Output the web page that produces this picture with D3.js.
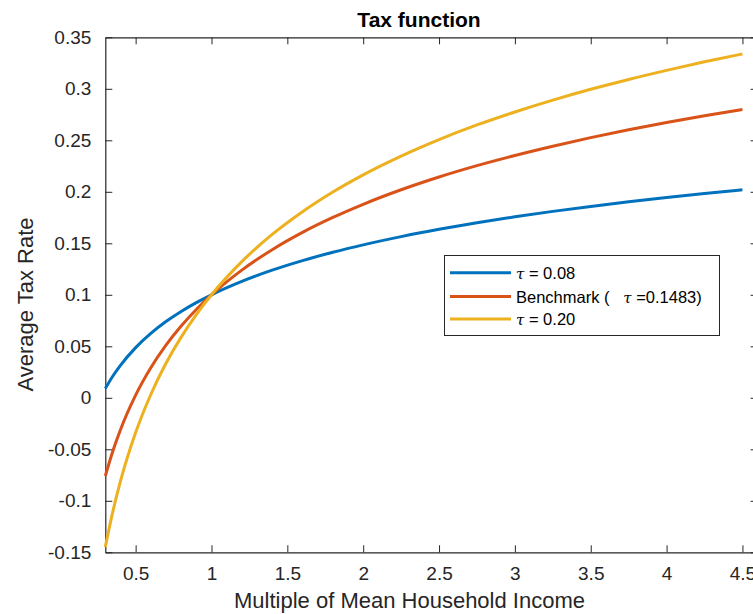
<!DOCTYPE html>
<html>
<head>
<meta charset="utf-8">
<script src="https://cdn.jsdelivr.net/npm/d3@7/dist/d3.min.js"></script>
<style>
  html, body { margin: 0; padding: 0; background: #fff; }
  svg { display: block; font-family: "Liberation Sans", Arial, Helvetica, sans-serif; }
</style>
</head>
<body>
<svg id="chart" width="753" height="614"></svg>
<script>
// Income levels (multiples of mean household income)
const income = [0.3, 0.35, 0.4, 0.5, 0.6, 0.7, 0.8, 0.9, 1.0, 1.2, 1.4, 1.6, 1.8, 2.0,
                2.25, 2.5, 2.75, 3.0, 3.25, 3.5, 3.75, 4.0, 4.25, 4.5];

// Average tax rate for each progressivity level
const rateTau008 = [0.0090, 0.0212, 0.0315, 0.0487, 0.0625, 0.0740, 0.0838, 0.0924, 0.1000,
                    0.1130, 0.1239, 0.1332, 0.1413, 0.1485, 0.1565, 0.1636, 0.1700, 0.1757,
                    0.1810, 0.1858, 0.1903, 0.1945, 0.1984, 0.2020];
const rateBenchmark = [-0.0759, -0.0516, -0.0310, 0.0026, 0.0292, 0.0511, 0.0697, 0.0858, 0.1000,
                       0.1240, 0.1438, 0.1606, 0.1751, 0.1879, 0.2020, 0.2144, 0.2254, 0.2353,
                       0.2443, 0.2526, 0.2602, 0.2672, 0.2738, 0.2799];
const rateTau020 = [-0.1450, -0.1103, -0.0810, -0.0338, 0.0032, 0.0335, 0.0589, 0.0808, 0.1000,
                    0.1322, 0.1586, 0.1807, 0.1998, 0.2165, 0.2347, 0.2507, 0.2649, 0.2775,
                    0.2890, 0.2995, 0.3091, 0.3179, 0.3262, 0.3338];

const xTicks = [0.5, 1, 1.5, 2, 2.5, 3, 3.5, 4, 4.5];
const yTicks = [-0.15, -0.1, -0.05, 0, 0.05, 0.1, 0.15, 0.2, 0.25, 0.3, 0.35];

const series = [
  { name: "tau008", values: rateTau008, color: "#0072BD" },
  { name: "benchmark", values: rateBenchmark, color: "#D95319" },
  { name: "tau020", values: rateTau020, color: "#EDB120" }
];

const axisColor = "#262626";
const svg = d3.select("#chart");

const plotLeft = 105.3, plotTop = 37.3, plotBottom = 552.3;
const x = d3.scaleLinear().domain([0.3, 4.6]).range([plotLeft, plotLeft + 4.3 * 151.7]);
const y = d3.scaleLinear().domain([-0.15, 0.35]).range([plotBottom, plotTop]);
const plotRight = x(4.6);

// Axes box with inward ticks on all four sides
const fmt = d => String(d);
const tickLen = 7;

const gx = svg.append("g").attr("transform", `translate(0,${plotBottom})`)
  .call(d3.axisBottom(x).tickValues(xTicks).tickFormat(fmt).tickSizeInner(-tickLen).tickSizeOuter(0).tickPadding(14));
const gxTop = svg.append("g").attr("transform", `translate(0,${plotTop})`)
  .call(d3.axisTop(x).tickValues(xTicks).tickFormat("").tickSizeInner(-tickLen).tickSizeOuter(0));
const gy = svg.append("g").attr("transform", `translate(${plotLeft},0)`)
  .call(d3.axisLeft(y).tickValues(yTicks).tickFormat(fmt).tickSizeInner(-tickLen).tickSizeOuter(0).tickPadding(14));
const gyRight = svg.append("g").attr("transform", `translate(${plotRight},0)`)
  .call(d3.axisRight(y).tickValues(yTicks).tickFormat("").tickSizeInner(-tickLen).tickSizeOuter(0));

[gx, gxTop, gy, gyRight].forEach(g => {
  g.select(".domain").attr("stroke", axisColor).attr("stroke-width", 1.2);
  g.selectAll(".tick line").attr("stroke", axisColor).attr("stroke-width", 1);
  g.selectAll(".tick text").attr("fill", axisColor).style("font-size", "19px")
    .style("font-family", "'Liberation Sans', Arial, sans-serif");
});
gx.selectAll(".tick text").attr("dy", "0.71em");

// Curves
const line = d3.line()
  .x((d, i) => x(income[i]))
  .y(d => y(d))
  .curve(d3.curveMonotoneX);

svg.append("g").selectAll("path").data(series).join("path")
  .attr("d", s => line(s.values))
  .attr("fill", "none")
  .attr("stroke", s => s.color)
  .attr("stroke-width", 3)
  .attr("stroke-linejoin", "round");

// Title and axis labels
svg.append("text").attr("x", 419).attr("y", 26.5).attr("text-anchor", "middle")
  .style("font-size", "21px").style("font-weight", "bold").attr("fill", "#000")
  .text("Tax function");

svg.append("text").attr("x", 409.5).attr("y", 608).attr("text-anchor", "middle")
  .style("font-size", "22px").attr("fill", axisColor)
  .text("Multiple of Mean Household Income");

svg.append("text").attr("transform", "translate(33,304.5) rotate(-90)").attr("text-anchor", "middle")
  .style("font-size", "22px").attr("fill", axisColor)
  .text("Average Tax Rate");

// Legend
const legend = svg.append("g");
legend.append("rect").attr("x", 444.5).attr("y", 255.5).attr("width", 275).attr("height", 80)
  .attr("fill", "#fff").attr("stroke", axisColor).attr("stroke-width", 1);

const legendRows = [
  { color: series[0].color, parts: [["tau", "τ"], ["txt", " = 0.08"]] },
  { color: series[1].color, parts: [["txt", "Benchmark (   "], ["tau", "τ"], ["txt", " =0.1483)"]] },
  { color: series[2].color, parts: [["tau", "τ"], ["txt", " = 0.20"]] }
];
const rowY = [272.7, 296.5, 319];
legendRows.forEach((r, i) => {
  legend.append("line").attr("x1", 450).attr("x2", 511).attr("y1", rowY[i]).attr("y2", rowY[i])
    .attr("stroke", r.color).attr("stroke-width", 3);
  const t = legend.append("text").attr("x", 516).attr("y", rowY[i] + 6)
    .style("font-size", "16.5px").attr("fill", "#000")
    .attr("xml:space", "preserve").style("white-space", "pre");
  r.parts.forEach(p => {
    const ts = t.append("tspan").text(p[1]);
    if (p[0] === "tau") ts.style("font-family", "'DejaVu Serif', serif").style("font-style", "italic").style("font-size", "15px");
  });
});
</script>
</body>
</html>
